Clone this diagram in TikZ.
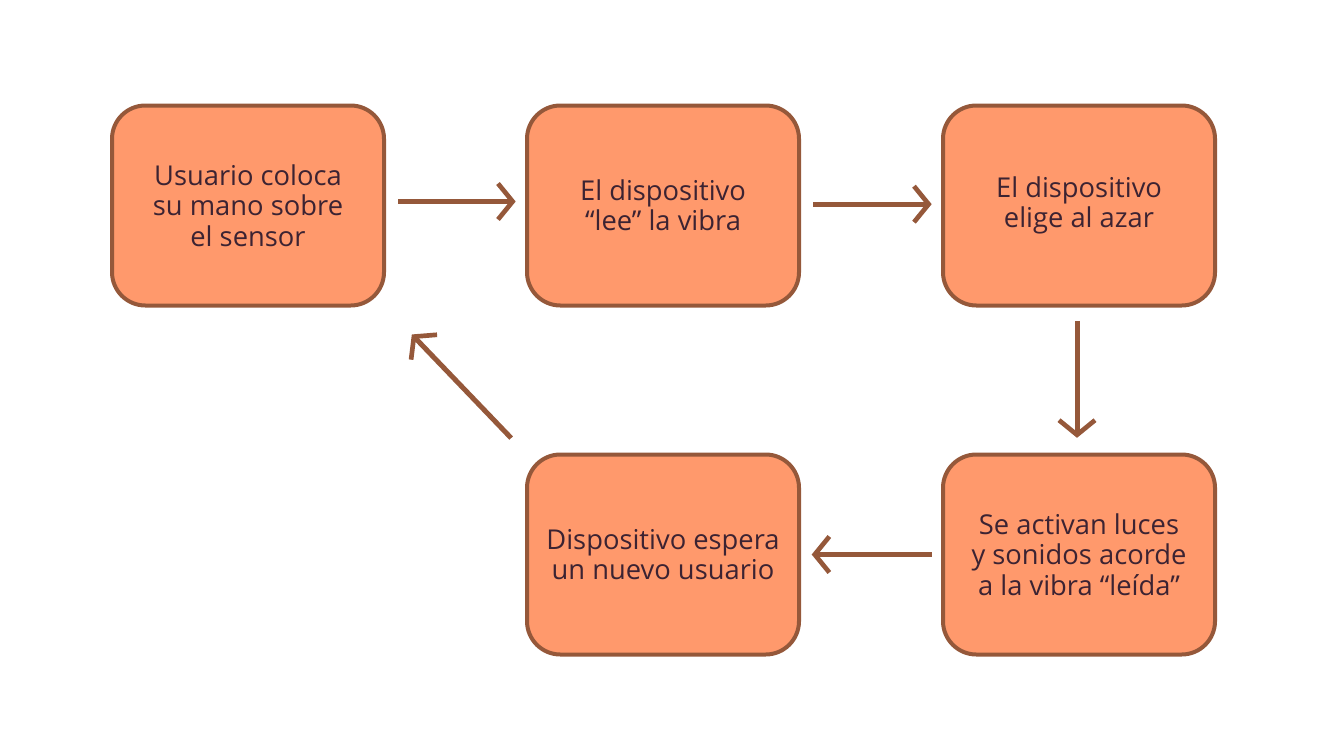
\documentclass[tikz,border=0pt]{standalone}
\usepackage{fontspec}
\setmainfont{Open Sans}
\usetikzlibrary{arrows.meta}

\definecolor{boxfill}{RGB}{255,153,108}
\definecolor{boxline}{RGB}{149,88,58}
\definecolor{boxtext}{RGB}{60,35,50}

\tikzset{every picture/.style={line width=0.75pt}}
\tikzset{
  stepbox/.style={draw=boxline, fill=boxfill, line width=3pt, rounded corners=25pt,
    minimum width=204pt, minimum height=150pt, inner sep=0pt, align=center,
    text=boxtext, font=\fontsize{20.5}{22.8}\selectfont},
  flow/.style={draw=boxline, line width=3.75pt,
    -{Straight Barb[length=11pt, width=27pt, line width=3.5pt]}}
}

\begin{document}
\begin{tikzpicture}[x=0.75pt,y=0.75pt,yscale=-1,xscale=1]
\useasboundingbox (0,0) rectangle (1333,750);

%Shape: Rounded Rect [id:usuario]
\node [stepbox] (usuario) at (248,205.5) {Usuario coloca\\su mano sobre\\el sensor};
%Shape: Rounded Rect [id:lee]
\node [stepbox] (lee) at (663,205.5) {El dispositivo\\“lee” la vibra};
%Shape: Rounded Rect [id:azar]
\node [stepbox] (azar) at (1079,205.5) {El dispositivo\\elige al azar};
%Shape: Rounded Rect [id:luces]
\node [stepbox] (luces) at (1079,554.5) {Se activan luces\\y sonidos acorde\\a la vibra “leída”};
%Shape: Rounded Rect [id:espera]
\node [stepbox] (espera) at (663,554.5) {Dispositivo espera\\un nuevo usuario};

%Straight Lines [id:usuario-lee]
\draw [flow, shorten <=9pt, shorten >=7pt]  ([yshift=-3pt]usuario.east) -- ([yshift=-3pt]lee.west) ;
%Straight Lines [id:lee-azar]
\draw [flow, shorten <=9pt, shorten >=7pt]  ([yshift=-1pt]lee.east) -- ([yshift=-1pt]azar.west) ;
%Straight Lines [id:azar-luces]
\draw [flow, shorten <=10pt, shorten >=11pt]  ([xshift=-1.5pt]azar.south) -- ([xshift=-1.5pt]luces.north) ;
%Straight Lines [id:luces-espera]
\draw [flow, shorten <=7pt, shorten >=8pt]  (luces.west) -- (espera.east) ;
%Straight Lines [id:espera-usuario]
\draw [flow, shorten <=15pt, shorten >=28pt]  (espera.north west) -- (usuario.south east) ;
\end{tikzpicture}
\end{document}
